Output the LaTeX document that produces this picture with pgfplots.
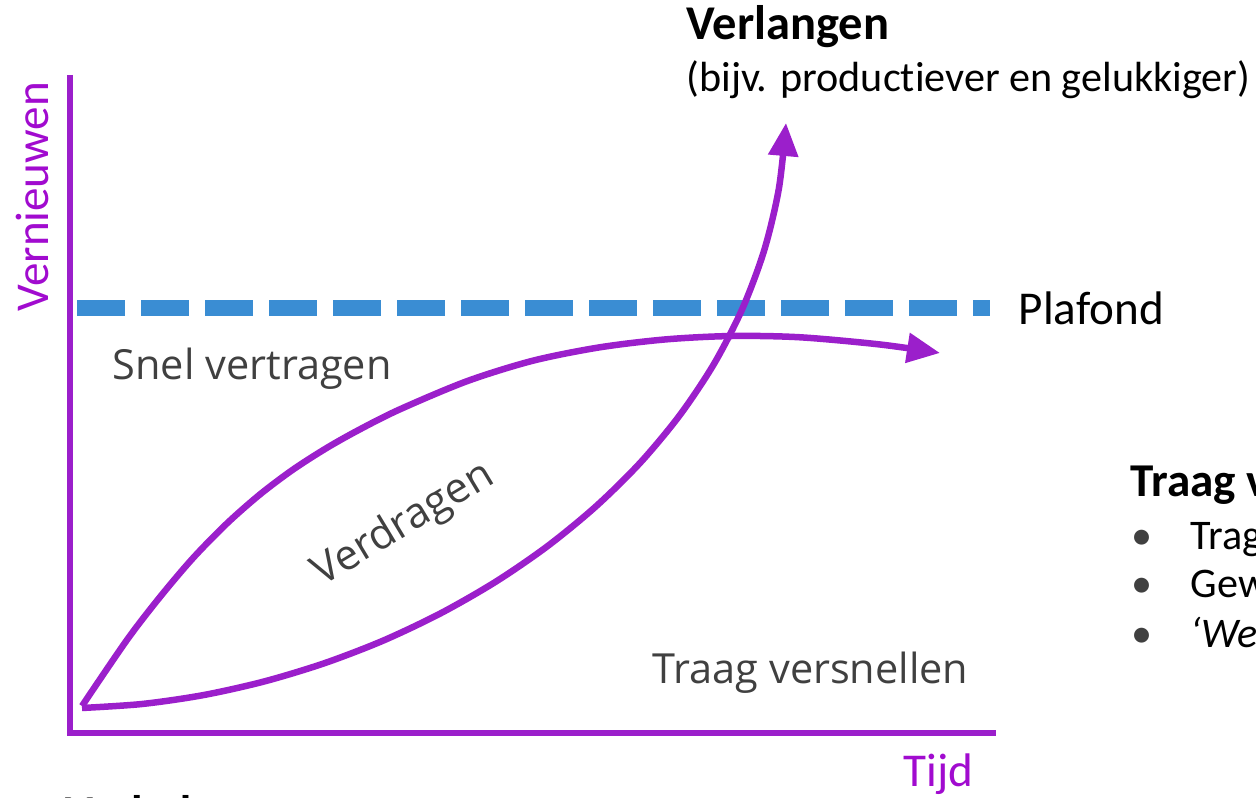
\documentclass[border=0pt]{standalone}
\usepackage{fontspec}
\setmainfont{Carlito}[Ligatures={TeX,NoCommon}]
\newfontfamily\os{Open Sans}
\usepackage{pgfplots}
\pgfplotsset{compat=1.18}
\usetikzlibrary{arrows.meta}
\definecolor{pur}{HTML}{9B1FCB}
\definecolor{purtxt}{HTML}{A10BCF}
\definecolor{blu}{HTML}{3A8DD3}
\definecolor{gr}{HTML}{404040}
\begin{document}
\begin{tikzpicture}
\useasboundingbox (0,0) rectangle (12.56cm,7.98cm);
\clip (0,0) rectangle (12.56cm,7.98cm);
\begin{axis}[
  at={(0,0)}, anchor=south west,
  scale only axis, width=12.56cm, height=7.98cm,
  xmin=0, xmax=1256, ymin=0, ymax=798, y dir=reverse,
  hide axis, clip=false,
]
% axes
\addplot[pur, line width=0.06cm, line join=miter] coordinates {(70,75) (70,733) (996,733)};
% plafond
\addplot[blu, line width=0.16cm, dash pattern=on 0.48cm off 0.16cm] coordinates {(77,308.5) (990,308.5)};
% snel vertragen curve
\addplot[pur, line width=0.065cm, smooth, -{Triangle[length=0.33cm,width=0.29cm]}] coordinates {
(82,706) (127,639.9) (160,597.0) (193,558.1) (227,523.4) (260,494.4) (293,469.6) (327,447.8) (360,429.3) (400,409.3) (467,381.2) (533,360.7) (600,347.3) (667,339.3) (733,336.0) (800,337.3) (880,344.5) (940,353)};
% traag versnellen curve
\addplot[pur, line width=0.065cm, smooth, -{Triangle[length=0.33cm,width=0.29cm]}] coordinates {
(82,708) (142.1,704.0) (202.9,695.2) (263.7,681.6) (323.9,663.4) (383.0,640.7) (440.3,613.5) (495.3,582.0) (547.2,546.4) (595.7,506.6) (640.1,462.9) (679.7,415.3) (714.0,363.9) (742.3,308.9) (764.2,250.3) (778.9,188.4) (786,123)};
% texts
\node[anchor=base west, inner sep=0, font=\fontsize{13.8pt}{14pt}\selectfont\bfseries] at (axis cs:686,40) {Verlangen};
\node[anchor=base west, inner sep=0, font=\fontsize{12pt}{14pt}\selectfont] at (axis cs:686,92) {(bijv. productiever en gelukkiger)};
\node[anchor=base west, inner sep=0, font=\fontsize{13.4pt}{14pt}\selectfont] at (axis cs:1018,325) {Plafond};
\node[anchor=base west, inner sep=0, font=\fontsize{13.4pt}{14pt}\selectfont, text=purtxt] at (axis cs:903,787) {Tijd};
\node[anchor=base west, inner sep=0, rotate=90, font=\fontsize{13.4pt}{14pt}\selectfont, text=purtxt] at (axis cs:48,312) {Vernieuwen};
\node[anchor=base west, inner sep=0, font=\fontsize{11.8pt}{14pt}\selectfont\os, text=gr] at (axis cs:112,380) {Snel vertragen};
\node[anchor=base west, inner sep=0, font=\fontsize{11.8pt}{14pt}\selectfont\os, text=gr] at (axis cs:652,684) {Traag versnellen};
\node[anchor=base west, inner sep=0, rotate=31, font=\fontsize{12pt}{14pt}\selectfont\os, text=gr] at (axis cs:322,587) {Verdragen};
\node[anchor=base west, inner sep=0, font=\fontsize{13.4pt}{14pt}\selectfont\bfseries] at (axis cs:1130,497) {Traag versnellen};
\node[anchor=base west, inner sep=0, font=\fontsize{12pt}{14pt}\selectfont, text=gr] at (axis cs:1131,550) {\textbullet};
\node[anchor=base west, inner sep=0, font=\fontsize{12pt}{14pt}\selectfont, text=gr] at (axis cs:1131,598) {\textbullet};
\node[anchor=base west, inner sep=0, font=\fontsize{12pt}{14pt}\selectfont, text=gr] at (axis cs:1131,648) {\textbullet};
\node[anchor=base west, inner sep=0, font=\fontsize{12pt}{14pt}\selectfont] at (axis cs:1190,550) {Trage};
\node[anchor=base west, inner sep=0, font=\fontsize{12pt}{14pt}\selectfont] at (axis cs:1190,598) {Gewoonten};
\node[anchor=base west, inner sep=0, font=\fontsize{12pt}{14pt}\selectfont\itshape] at (axis cs:1190,648) {‘We};
\node[anchor=base west, inner sep=0, font=\fontsize{13.4pt}{14pt}\selectfont\bfseries] at (axis cs:65,829) {Verleden};
\end{axis}
\end{tikzpicture}
\end{document}
